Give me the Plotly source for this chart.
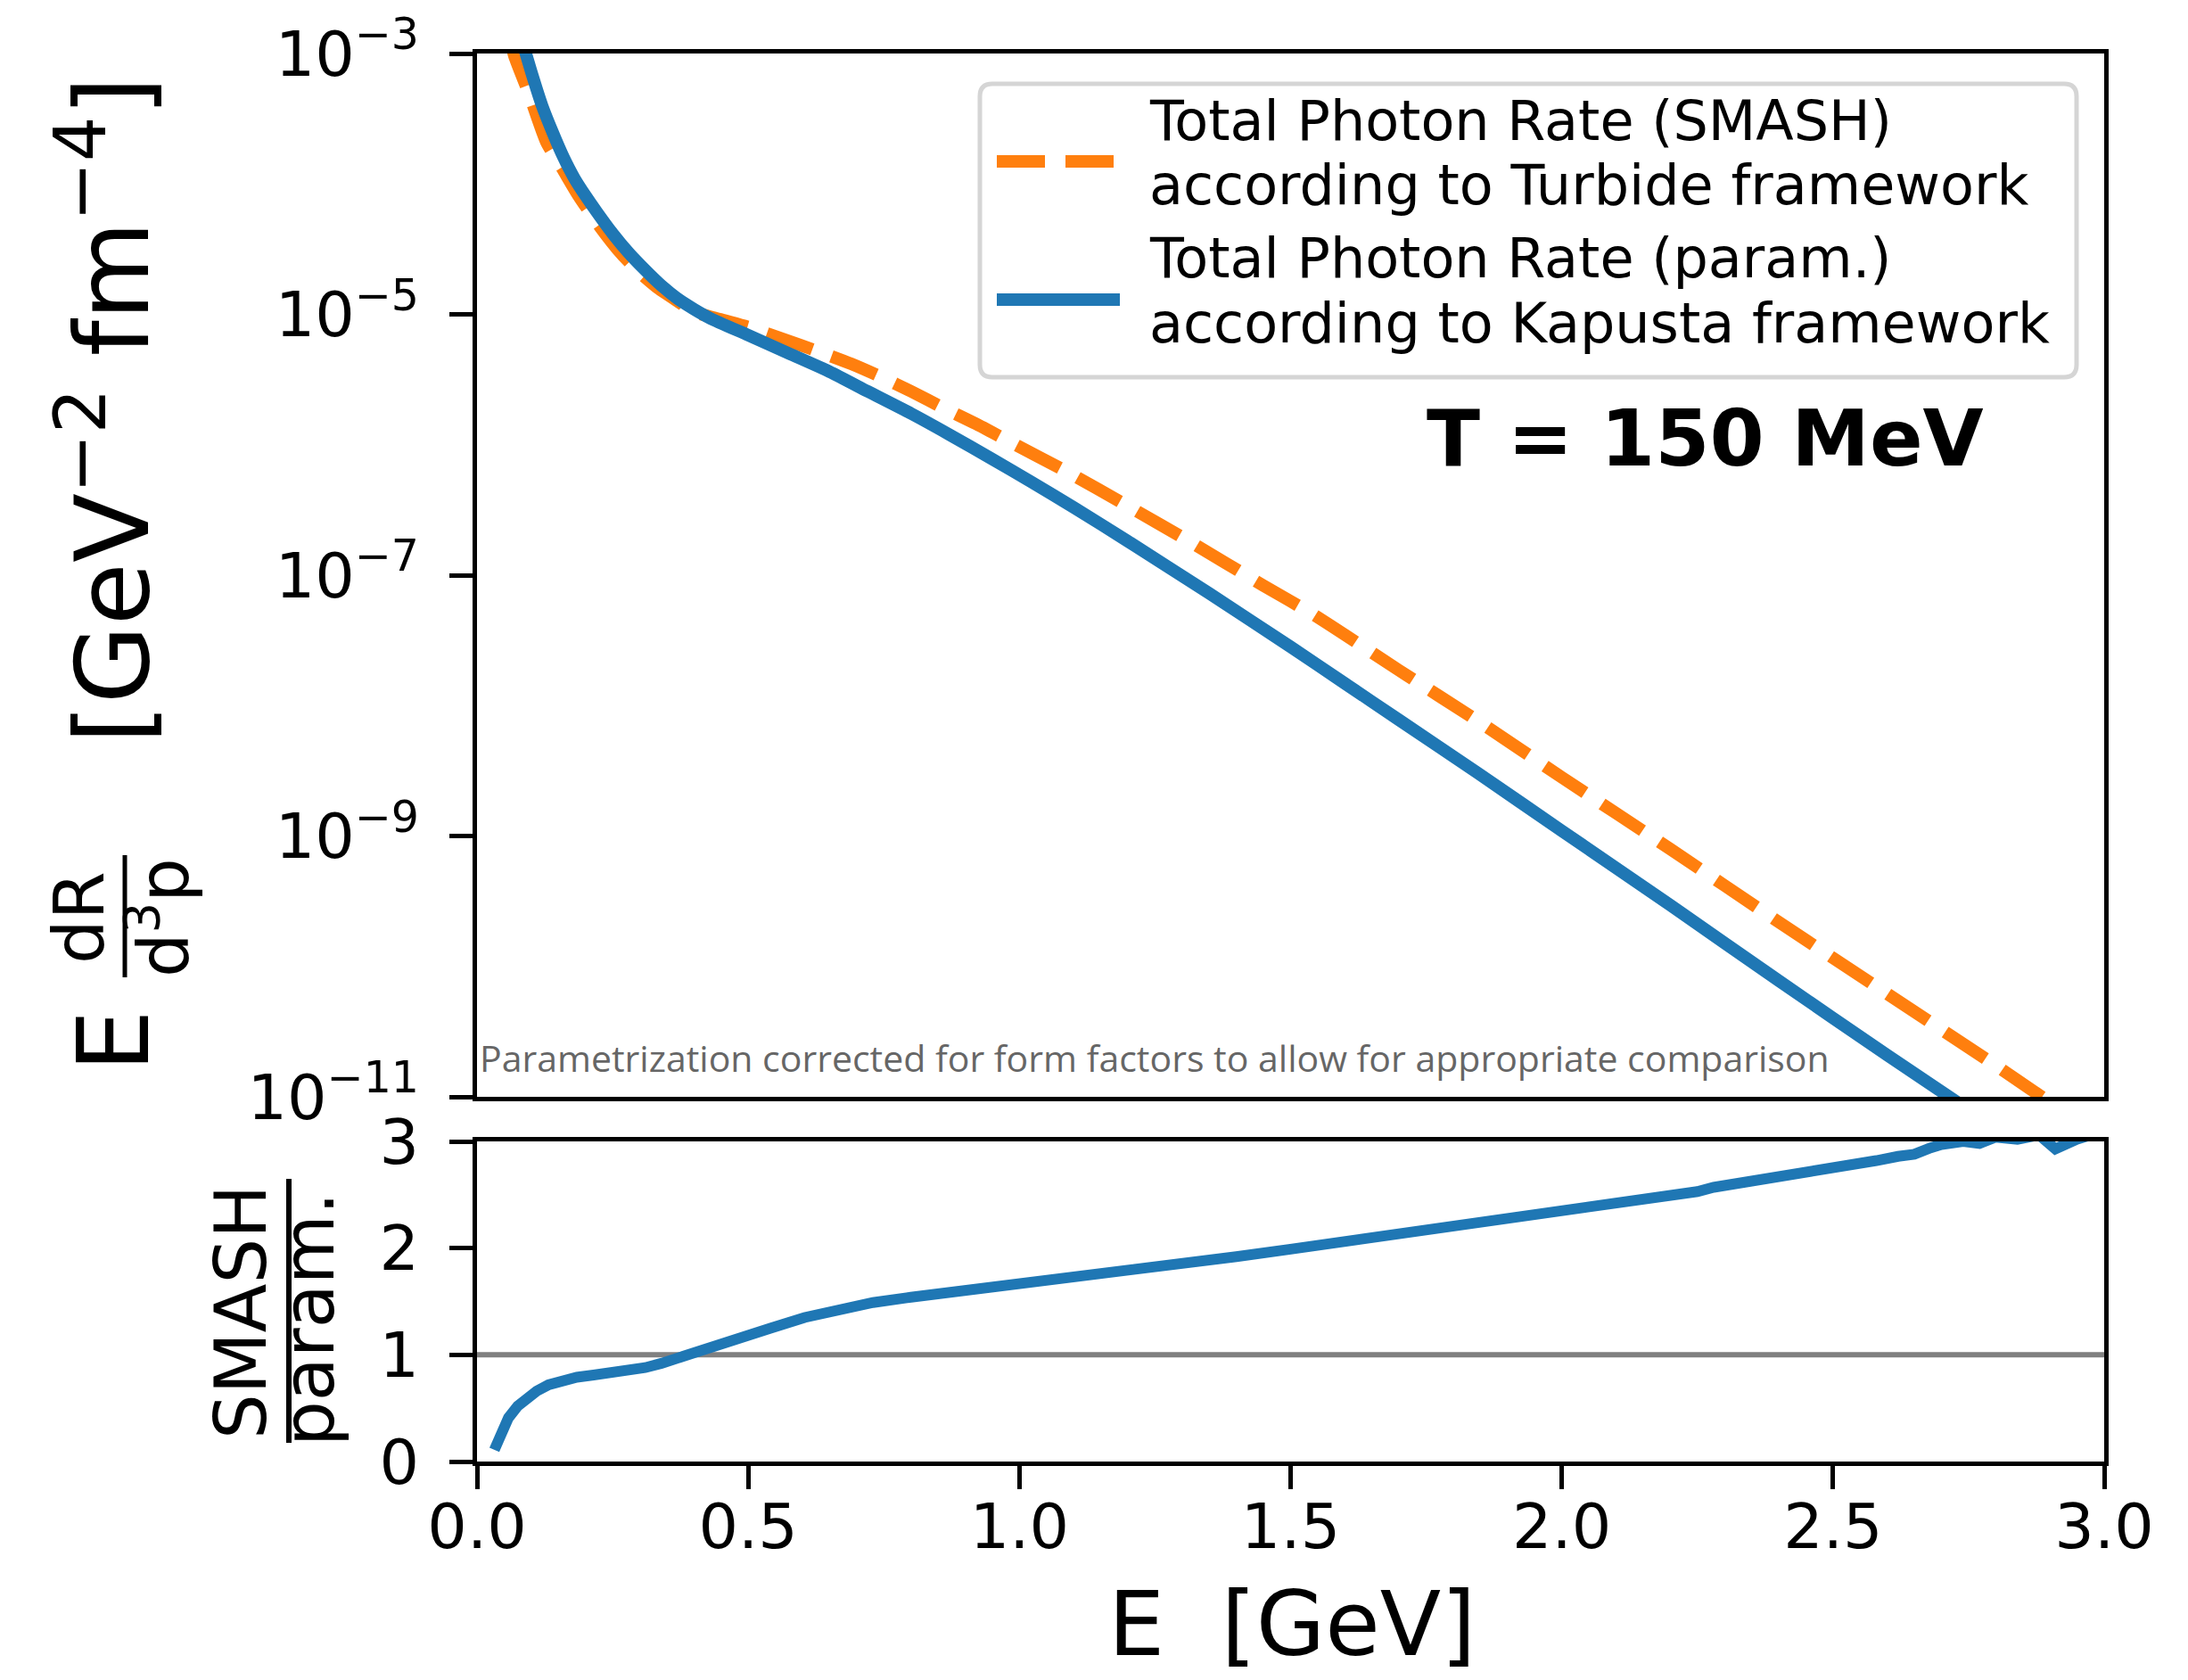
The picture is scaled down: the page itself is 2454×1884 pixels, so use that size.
import plotly.graph_objects as go

W, H = 2454, 1884

# ---------------- data ----------------
# Total photon rate, parametrization (Kapusta framework): E [GeV], log10(rate)
E_param = [0.085, 0.10, 0.12, 0.14, 0.16, 0.18, 0.20, 0.22, 0.25, 0.28, 0.31, 0.34,
           0.37, 0.40, 0.43, 0.50, 0.575, 0.65, 0.72, 0.80, 0.87, 0.95, 1.02, 1.10,
           1.20, 1.35, 1.50, 1.60, 1.70, 1.846, 2.00, 2.20, 2.40, 2.60, 2.75]
log10_param = [-2.93, -3.14, -3.40, -3.61, -3.80, -3.96, -4.09, -4.21, -4.38, -4.53, -4.66, -4.78,
               -4.88, -4.96, -5.03, -5.16, -5.30, -5.44, -5.59, -5.76, -5.92, -6.11, -6.28, -6.48,
               -6.74, -7.14, -7.55, -7.83, -8.11, -8.52, -8.96, -9.53, -10.11, -10.68, -11.10]

# Total photon rate, SMASH (Turbide framework)
E_smash = [0.062, 0.069, 0.096, 0.128, 0.157, 0.187, 0.227, 0.267, 0.30, 0.334, 0.37, 0.40,
           0.45, 0.502, 0.565, 0.626, 0.69, 0.745, 0.80, 0.861, 0.92, 0.979, 1.089, 1.20,
           1.313, 1.45, 1.545, 1.70, 1.846, 2.00, 2.20, 2.40, 2.60, 2.80, 2.92]
log10_smash = [-2.90, -3.02, -3.31, -3.68, -3.88, -4.09, -4.33, -4.54, -4.68, -4.80, -4.90, -4.98,
               -5.04, -5.10, -5.19, -5.28, -5.38, -5.48, -5.59, -5.72, -5.84, -5.97, -6.21, -6.47,
               -6.74, -7.08, -7.31, -7.73, -8.12, -8.55, -9.10, -9.66, -10.21, -10.76, -11.10]

# Ratio SMASH / param.
E_ratio = [0.032, 0.045, 0.058, 0.075, 0.09, 0.11, 0.132, 0.155, 0.184, 0.215, 0.247, 0.28,
           0.31, 0.34, 0.363, 0.40, 0.436, 0.49, 0.541, 0.604, 0.667, 0.73, 0.80, 0.90,
           1.0, 1.1, 1.2, 1.3, 1.4, 1.5, 1.6, 1.7, 1.8, 1.9, 2.0, 2.1, 2.15, 2.2,
           2.25, 2.28, 2.32, 2.35, 2.38, 2.42, 2.46, 2.5, 2.54, 2.58, 2.62, 2.65, 2.68,
           2.70, 2.74, 2.77, 2.80, 2.84, 2.88, 2.91, 2.95, 3.0]
ratio = [0.11, 0.28, 0.41, 0.52, 0.59, 0.66, 0.72, 0.76, 0.79, 0.81, 0.83, 0.86,
         0.88, 0.92, 0.96, 1.01, 1.07, 1.16, 1.25, 1.35, 1.43, 1.49, 1.54, 1.60,
         1.66, 1.72, 1.78, 1.85, 1.92, 1.99, 2.06, 2.13, 2.20, 2.27, 2.34, 2.41, 2.46, 2.50,
         2.53, 2.57, 2.60, 2.64, 2.66, 2.70, 2.72, 2.75, 2.78, 2.82, 2.86, 2.88, 2.94,
         2.97, 3.00, 2.98, 3.04, 3.02, 3.06, 2.93, 3.02, 3.10]

reference_line = [1.0, 1.0]
reference_E = [0.0, 3.0]

y_tick_vals = [1e-11, 1e-9, 1e-7, 1e-5, 1e-3]
y_tick_text = ["10<sup>\u221211</sup>", "10<sup>\u22129</sup>", "10<sup>\u22127</sup>",
               "10<sup>\u22125</sup>", "10<sup>\u22123</sup>"]
x_tick_vals = [0.0, 0.5, 1.0, 1.5, 2.0, 2.5, 3.0]
x_tick_text = ["0.0", "0.5", "1.0", "1.5", "2.0", "2.5", "3.0"]
ratio_tick_vals = [0, 1, 2, 3]
ratio_tick_text = ["0", "1", "2", "3"]

legend_lines = ["Total Photon Rate (SMASH)", "according to Turbide framework",
                "Total Photon Rate (param.)", "according to Kapusta framework"]
note_text = "Parametrization corrected for form factors to allow for appropriate comparison"
temp_text = "T = 150 MeV"

# ---------------- styles ----------------
BLUE = "#1f77b4"
ORANGE = "#ff7f0e"
FONT = "DejaVu Sans"
LW = 14
SPINE = 5


def px(X):
    return X / W


def py(Y):
    return 1 - Y / H


x_dom = [px(527), px(2352)]
main_dom = [py(1222), py(52)]
ratio_dom = [py(1631), py(1272)]

fig = go.Figure()

fig.add_trace(go.Scatter(x=reference_E, y=reference_line, mode="lines",
                         line=dict(color="#808080", width=6),
                         xaxis="x2", yaxis="y2", showlegend=False, hoverinfo="skip"))
fig.add_trace(go.Scatter(x=E_ratio, y=ratio, mode="lines",
                         line=dict(color=BLUE, width=LW - 2),
                         xaxis="x2", yaxis="y2", showlegend=False))
fig.add_trace(go.Scatter(x=E_smash, y=[10 ** v for v in log10_smash], mode="lines",
                         line=dict(color=ORANGE, width=LW, dash="54px,23px",
                                   shape="spline", smoothing=0.6),
                         xaxis="x", yaxis="y", showlegend=False, name=legend_lines[0]))
fig.add_trace(go.Scatter(x=E_param, y=[10 ** v for v in log10_param], mode="lines",
                         line=dict(color=BLUE, width=LW, shape="spline", smoothing=0.6),
                         xaxis="x", yaxis="y", showlegend=False, name=legend_lines[2]))

tickfont = dict(family=FONT, size=70, color="black")
common = dict(showline=True, linecolor="black", linewidth=SPINE, mirror=True,
              showgrid=False, zeroline=False, automargin=False)

fig.update_layout(
    width=W, height=H, autosize=False,
    margin=dict(l=0, r=0, t=0, b=0, autoexpand=False),
    paper_bgcolor="white", plot_bgcolor="white",
    showlegend=False,
    xaxis=dict(domain=x_dom, range=[0, 3], anchor="y", showticklabels=False, ticks="",
               **common),
    yaxis=dict(domain=main_dom, type="log", range=[-11, -3], anchor="x",
               tickvals=y_tick_vals, ticktext=y_tick_text, ticks="outside",
               ticklen=26, tickwidth=SPINE, tickcolor="black", tickfont=tickfont,
               ticklabelstandoff=20, **common),
    xaxis2=dict(domain=x_dom, range=[0, 3], anchor="y2", tickvals=x_tick_vals,
                ticktext=x_tick_text, ticks="outside", ticklen=26, tickwidth=SPINE,
                tickcolor="black", tickfont=tickfont, ticklabelstandoff=-18, **common),
    yaxis2=dict(domain=ratio_dom, range=[0, 3], anchor="x2", tickvals=ratio_tick_vals,
                ticktext=ratio_tick_text, ticks="outside", ticklen=26, tickwidth=SPINE,
                tickcolor="black", tickfont=tickfont, ticklabelstandoff=20, **common),
)

ann = []
shapes = []


def text(X, Y, s, size, angle=0, xanchor="center", color="black", family=FONT, bold=False):
    if bold:
        s = "<b>" + s + "</b>"
    ann.append(dict(x=px(X), y=py(Y), xref="paper", yref="paper", text=s,
                    showarrow=False, textangle=angle, xanchor=xanchor, yanchor="middle",
                    font=dict(family=family, size=size, color=color)))


# main y label pieces (rotated)
text(111, 452, "[GeV<sup>\u22122</sup> fm<sup>\u22124</sup>]", 114, angle=-90)
text(120, 1159, "E", 110, angle=-90)
text(81, 1021, "dR", 78, angle=-90)
text(170, 1021, "d<sup>3</sup>p", 78, angle=-90)
shapes.append(dict(type="line", xref="paper", yref="paper", x0=px(132), x1=px(132),
                   y0=py(951), y1=py(1088), line=dict(color="black", width=5)))

# ratio y label
text(262, 1464, "SMASH", 80, angle=-90)
text(338, 1472, "param.", 80, angle=-90)
shapes.append(dict(type="line", xref="paper", yref="paper", x0=px(316), x1=px(316),
                   y0=py(1314), y1=py(1610), line=dict(color="black", width=6)))

# x label
text(1441, 1813, "E\u00a0\u00a0[GeV]", 100)

# temperature label
text(1904, 483, temp_text, 88, bold=True)

# note
text(528, 1178, note_text, 41, xanchor="left", color="#666666", family="Open Sans")

# legend box (rounded)
x0, x1, y0, y1 = 1091, 2321, 86, 415
r = 14
rx, ry = r / W, r / H
X0, X1, Y0, Y1 = px(x0), px(x1), py(y1), py(y0)
path = (f"M {X0+rx},{Y0} L {X1-rx},{Y0} Q {X1},{Y0} {X1},{Y0+ry} "
        f"L {X1},{Y1-ry} Q {X1},{Y1} {X1-rx},{Y1} L {X0+rx},{Y1} "
        f"Q {X0},{Y1} {X0},{Y1-ry} L {X0},{Y0+ry} Q {X0},{Y0} {X0+rx},{Y0} Z")
shapes.append(dict(type="path", xref="paper", yref="paper", path=path,
                   line=dict(color="#d5d5d5", width=5), fillcolor="white", layer="above"))
shapes.append(dict(type="line", xref="paper", yref="paper", x0=px(1110), x1=px(1248),
                   y0=py(173), y1=py(173), layer="above",
                   line=dict(color=ORANGE, width=LW, dash="54px,23px")))
shapes.append(dict(type="line", xref="paper", yref="paper", x0=px(1110), x1=px(1248),
                   y0=py(328), y1=py(328), layer="above",
                   line=dict(color=BLUE, width=LW)))
for s, c in zip(legend_lines, [127, 199, 282, 354]):
    text(1279, c, s, 62, xanchor="left")

fig.update_layout(annotations=ann, shapes=shapes)
fig.write_html("out.html")
